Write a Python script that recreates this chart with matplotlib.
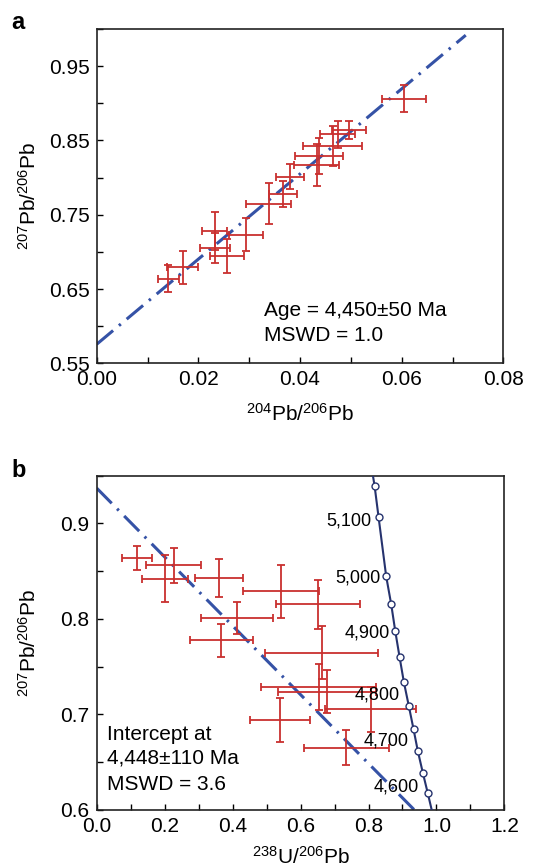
import matplotlib
matplotlib.use("Agg")
import matplotlib.pyplot as plt
from matplotlib.ticker import MultipleLocator

plt.rcParams['font.family'] = ['Liberation Sans', 'DejaVu Sans']
plt.rcParams['mathtext.fontset'] = 'custom'
plt.rcParams['mathtext.rm'] = 'Liberation Sans'
plt.rcParams['mathtext.default'] = 'regular'

# panel a: 204Pb/206Pb vs 207Pb/206Pb
a_x = [0.0141, 0.0169, 0.0232, 0.0233, 0.0256, 0.0294, 0.0338, 0.0366,
       0.0380, 0.0433, 0.0437, 0.0464, 0.0474, 0.0496, 0.0604]
a_y = [0.664, 0.679, 0.728, 0.705, 0.694, 0.723, 0.765, 0.778,
       0.801, 0.817, 0.829, 0.843, 0.858, 0.864, 0.906]
a_xerr = [0.0020, 0.0030, 0.0024, 0.0030, 0.0034, 0.0034, 0.0044, 0.0028,
          0.0028, 0.0044, 0.0047, 0.0058, 0.0034, 0.0034, 0.0043]
a_yerr = [0.018, 0.022, 0.025, 0.020, 0.023, 0.022, 0.028, 0.017,
          0.017, 0.028, 0.024, 0.027, 0.018, 0.012, 0.018]
a_fit_x = [0.0, 0.0726]
a_fit_y = [0.5756, 0.9917]

# panel b: 238U/206Pb vs 207Pb/206Pb
b_x = [0.1195, 0.2262, 0.2008, 0.3604, 0.5416, 0.6513, 0.4133,
       0.3673, 0.6621, 0.6533, 0.6778, 0.8060, 0.5406, 0.7346]
b_y = [0.8641, 0.8560, 0.8422, 0.8429, 0.8289, 0.8153, 0.8010,
       0.7777, 0.7648, 0.7289, 0.7237, 0.7052, 0.6941, 0.6652]
b_xerr = [0.0436, 0.082, 0.0686, 0.070, 0.1117, 0.125, 0.107,
          0.093, 0.1665, 0.169, 0.145, 0.133, 0.088, 0.125]
b_yerr = [0.0124, 0.0183, 0.0244, 0.0199, 0.0274, 0.0253, 0.0166,
          0.0174, 0.0275, 0.0244, 0.0226, 0.0235, 0.0233, 0.0183]
b_fit_x = [0.0, 0.935]
b_fit_y = [0.937, 0.600]

# concordia curve
conc_x = [0.813, 0.818, 0.8296, 0.852, 0.8668, 0.8786, 0.8913, 0.904,
          0.9187, 0.9324, 0.9451, 0.9598, 0.9745, 0.986]
conc_y = [0.950, 0.939, 0.9066, 0.8446, 0.8153, 0.7875, 0.7603, 0.734,
          0.7087, 0.6847, 0.6617, 0.639, 0.6174, 0.600]
circ_x = conc_x[1:-1]
circ_y = conc_y[1:-1]
age_labels = ['5,100', '5,000', '4,900', '4,800', '4,700', '4,600']
age_lab_x = [0.808, 0.835, 0.864, 0.891, 0.919, 0.948]
age_lab_y = [0.903, 0.843, 0.785, 0.720, 0.672, 0.624]

RED = '#c9302f'
BLUE = '#3552a6'
NAVY = '#26336e'
fit_style = (0, (7, 2.5, 0.8, 2.5))


def style_axes(ax):
    for s in ax.spines.values():
        s.set_color('#222222')
        s.set_linewidth(1.2)
    ax.tick_params(which='both', direction='in', length=4, width=1,
                   top=False, right=False, labelsize=15, pad=5)


fig = plt.figure(figsize=(5.33, 8.66), dpi=100)

# ---- panel a
ax1 = fig.add_axes([0.1814, 0.5805, 0.763, 0.386])
ax1.plot(a_fit_x, a_fit_y, color=BLUE, lw=2.2, linestyle=fit_style, zorder=2)
ax1.errorbar(a_x, a_y, xerr=a_xerr, yerr=a_yerr, fmt='none', ecolor=RED,
             elinewidth=1.3, capsize=3, capthick=1.3, zorder=3)
ax1.set_xlim(0, 0.08)
ax1.set_ylim(0.55, 1.0)
ax1.set_xticks([0.0, 0.02, 0.04, 0.06, 0.08])
ax1.set_xticklabels(['0.00', '0.02', '0.04', '0.06', '0.08'])
ax1.set_yticks([0.55, 0.65, 0.75, 0.85, 0.95])
ax1.set_yticklabels(['0.55', '0.65', '0.75', '0.85', '0.95'])
ax1.xaxis.set_minor_locator(MultipleLocator(0.01))
ax1.yaxis.set_minor_locator(MultipleLocator(0.05))
style_axes(ax1)
ax1.set_xlabel(r'$^{204}$Pb/$^{206}$Pb', fontsize=15)
ax1.set_ylabel(r'$^{207}$Pb/$^{206}$Pb', fontsize=15)
ax1.xaxis.set_label_coords(0.5, -0.118)
ax1.yaxis.set_label_coords(-0.14, 0.5)
ax1.text(0.033, 0.6204, 'Age = 4,450±50 Ma', fontsize=15, va='center')
ax1.text(0.033, 0.5872, 'MSWD = 1.0', fontsize=15, va='center')
fig.text(0.022, 0.9665, 'a', fontsize=17, fontweight='bold')

# ---- panel b
ax2 = fig.add_axes([0.1814, 0.0647, 0.765, 0.386])
ax2.plot(b_fit_x, b_fit_y, color=BLUE, lw=2.2, linestyle=fit_style, zorder=2)
ax2.errorbar(b_x, b_y, xerr=b_xerr, yerr=b_yerr, fmt='none', ecolor=RED,
             elinewidth=1.3, capsize=3, capthick=1.3, zorder=3)
ax2.plot(conc_x, conc_y, color=NAVY, lw=1.5, zorder=4, clip_on=True)
ax2.plot(circ_x, circ_y, 'o', ms=5, mfc='white', mec=NAVY, mew=1.0, zorder=5)
for lab, lx, ly in zip(age_labels, age_lab_x, age_lab_y):
    ax2.text(lx, ly, lab, fontsize=13, ha='right', va='center', zorder=6)
ax2.set_xlim(0, 1.2)
ax2.set_ylim(0.6, 0.95)
ax2.set_xticks([0.0, 0.2, 0.4, 0.6, 0.8, 1.0, 1.2])
ax2.set_xticklabels(['0.0', '0.2', '0.4', '0.6', '0.8', '1.0', '1.2'])
ax2.set_yticks([0.6, 0.7, 0.8, 0.9])
ax2.set_yticklabels(['0.6', '0.7', '0.8', '0.9'])
ax2.xaxis.set_minor_locator(MultipleLocator(0.1))
ax2.yaxis.set_minor_locator(MultipleLocator(0.05))
style_axes(ax2)
ax2.set_xlabel(r'$^{238}$U/$^{206}$Pb', fontsize=15)
ax2.set_ylabel(r'$^{207}$Pb/$^{206}$Pb', fontsize=15)
ax2.xaxis.set_label_coords(0.5, -0.108)
ax2.yaxis.set_label_coords(-0.14, 0.5)
ax2.text(0.031, 0.679, 'Intercept at', fontsize=15, va='center')
ax2.text(0.031, 0.654, '4,448±110 Ma', fontsize=15, va='center')
ax2.text(0.031, 0.627, 'MSWD = 3.6', fontsize=15, va='center')
fig.text(0.022, 0.4495, 'b', fontsize=17, fontweight='bold')

plt.savefig('out.png', dpi=100)
